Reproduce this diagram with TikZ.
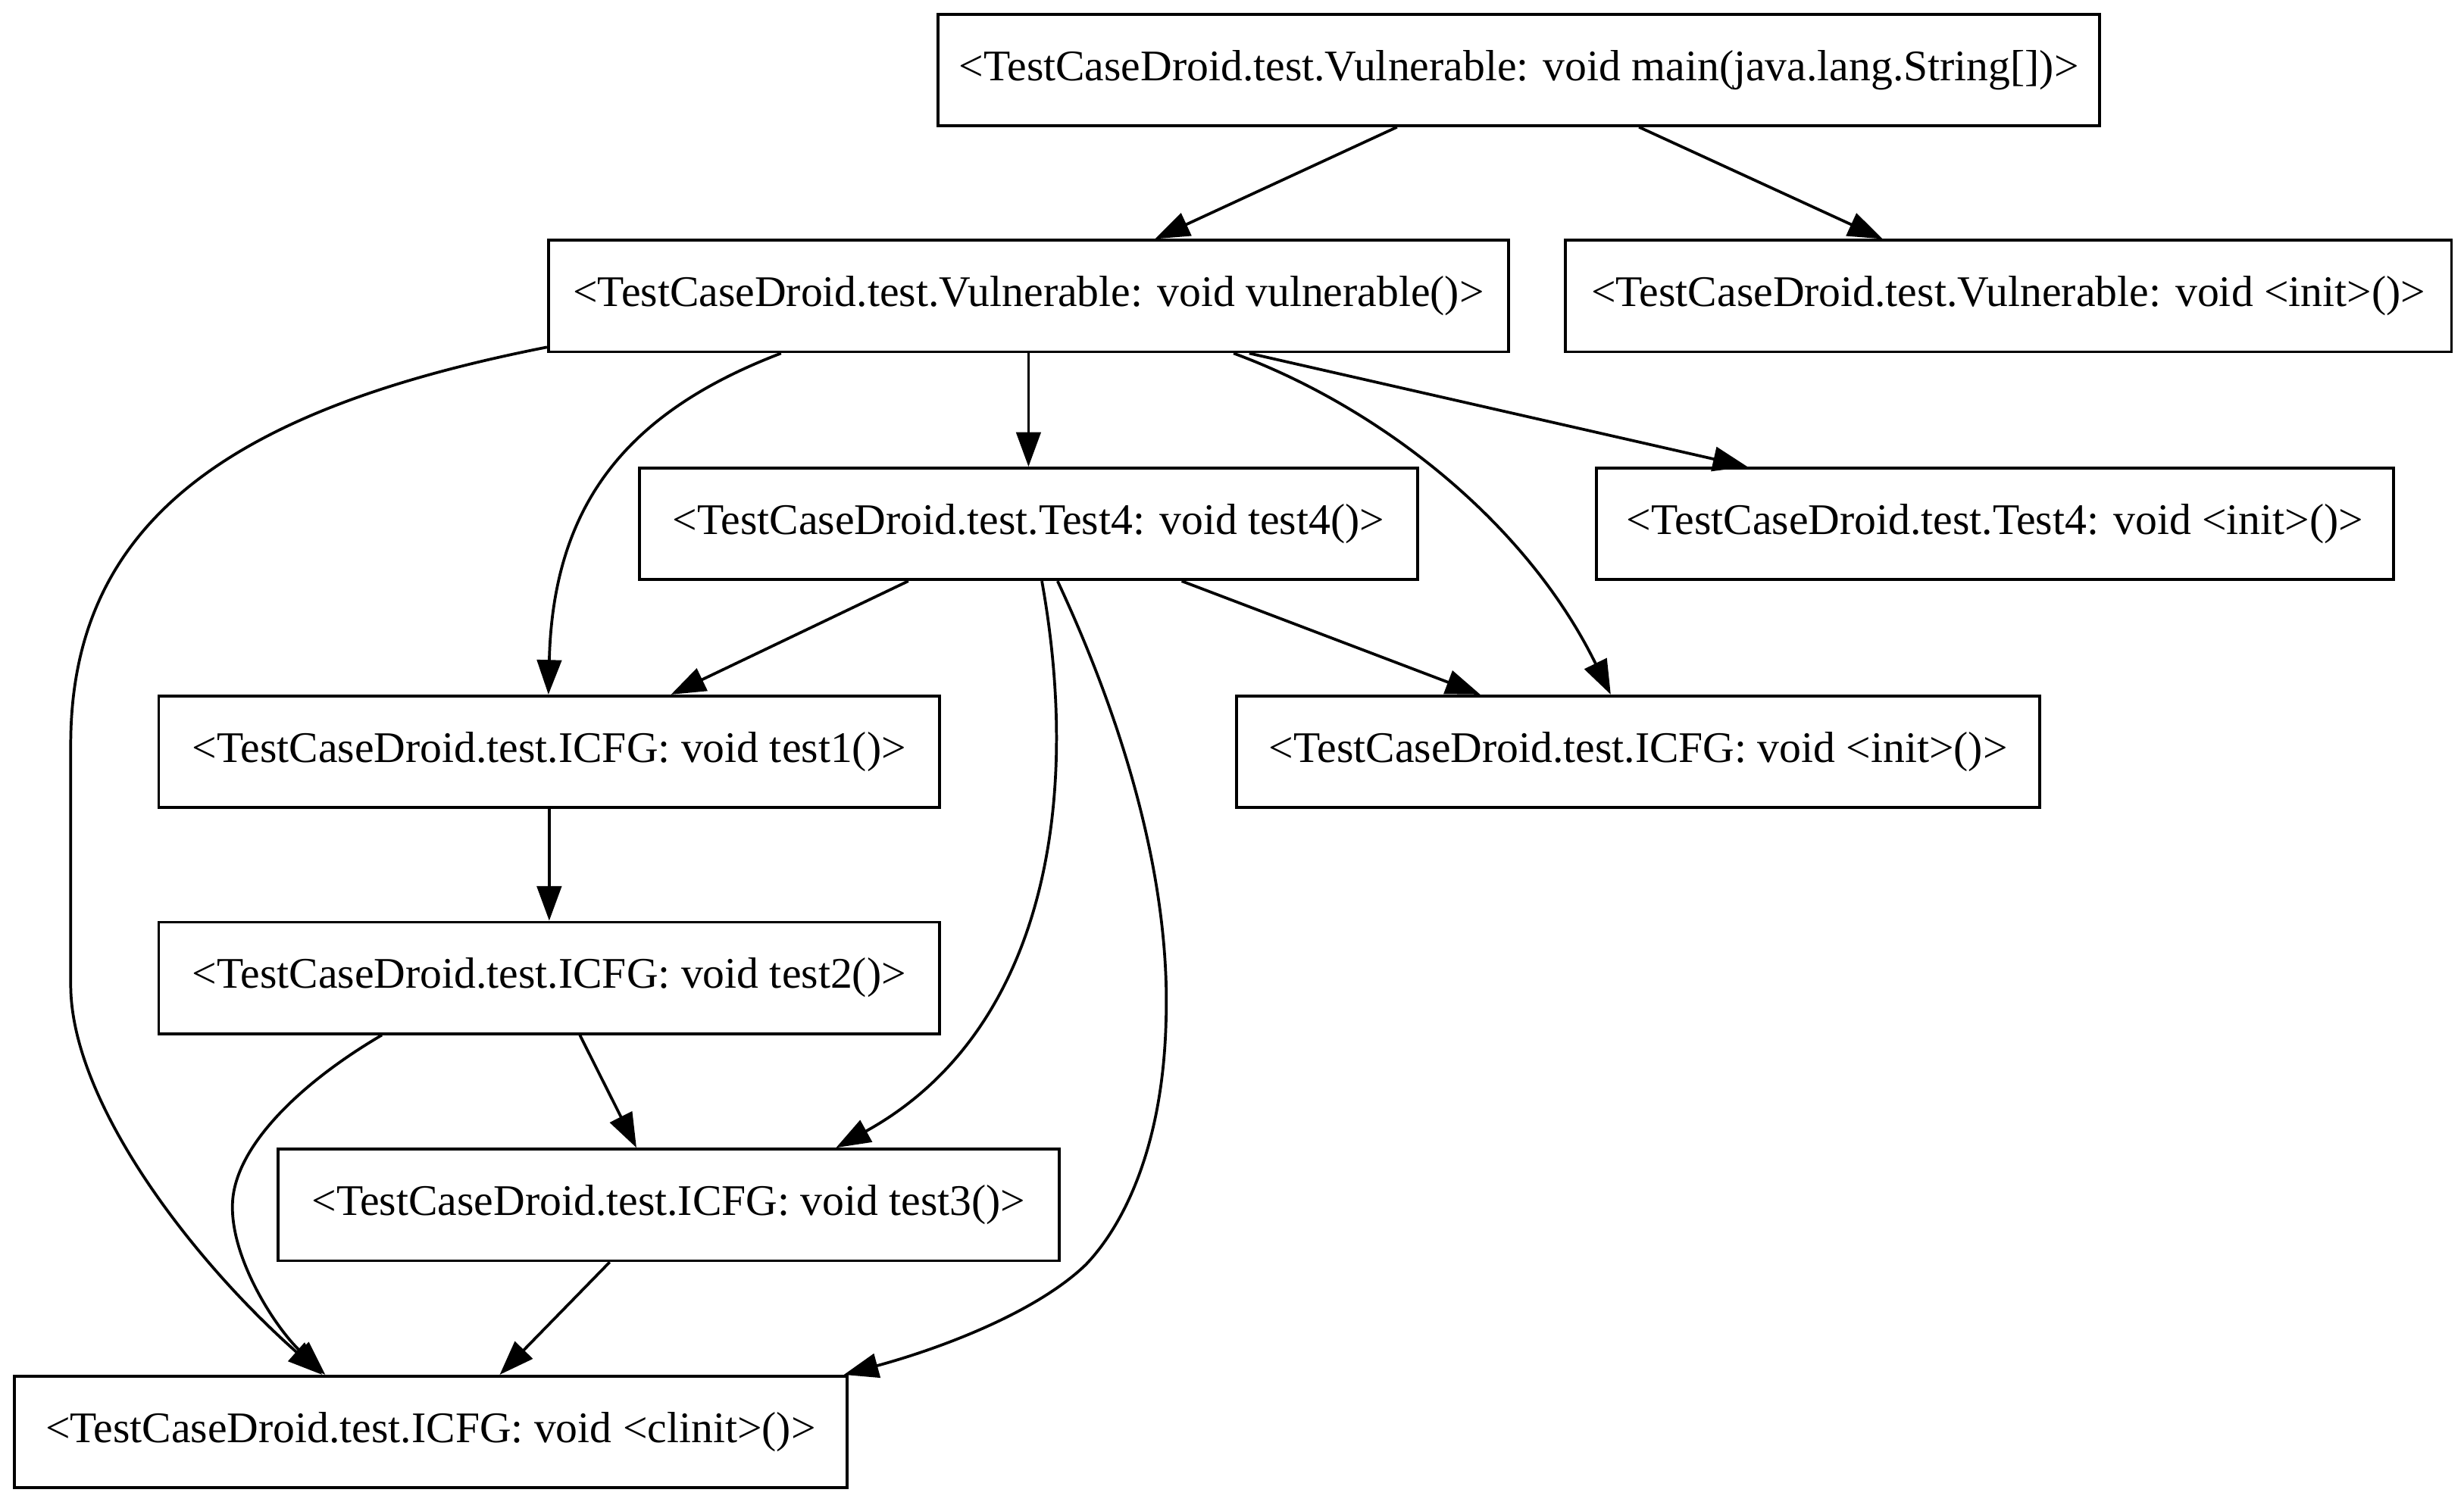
\documentclass[tikz,border=0pt]{standalone}
\usepackage{fontspec}
\setmainfont{Liberation Serif}
\usetikzlibrary{arrows.meta}
\begin{document}
\begin{tikzpicture}[x=0.5pt,y=-0.5pt,
  box/.style={draw, line width=0.9pt, minimum height=35.5pt, inner sep=0pt,
    font=\fontsize{13.9}{16}\selectfont},
  edge/.style={line width=0.9pt, -{Triangle[length=11pt,width=7.8pt]}}]
\useasboundingbox (0,0) rectangle (1568,956);
\node[box, minimum width=369.5pt] (main) at (966.5,44.5) {<TestCaseDroid.test.Vulnerable: void main(java.lang.String[])>};
\node[box, minimum width=305.5pt] (vul) at (654.5,188.5) {<TestCaseDroid.test.Vulnerable: void vulnerable()>};
\node[box, minimum width=282pt] (vinit) at (1278,188.5) {<TestCaseDroid.test.Vulnerable: void <init>()>};
\node[box, minimum width=247.5pt] (test4) at (654.5,333.5) {<TestCaseDroid.test.Test4: void test4()>};
\node[box, minimum width=253.5pt] (t4init) at (1269.5,333.5) {<TestCaseDroid.test.Test4: void <init>()>};
\node[box, minimum width=248.5pt] (test1) at (349.5,478.5) {<TestCaseDroid.test.ICFG: void test1()>};
\node[box, minimum width=255.5pt] (icfginit) at (1042.5,478.5) {<TestCaseDroid.test.ICFG: void <init>()>};
\node[box, minimum width=248.5pt] (test2) at (349.5,622.5) {<TestCaseDroid.test.ICFG: void test2()>};
\node[box, minimum width=248.5pt] (test3) at (425.5,767) {<TestCaseDroid.test.ICFG: void test3()>};
\node[box, minimum width=265pt] (clinit) at (274,911.5) {<TestCaseDroid.test.ICFG: void <clinit>()>};

\draw[edge] (main.south -| 889,0) -- (vul.north -| 735,0);
\draw[edge] (main.south -| 1043,0) -- (vinit.north -| 1198,0);
\draw[edge] (vul.west |- 0,221) .. controls (150,260) and (45,330) .. (45,474)
  -- (45,627) .. controls (45,700) and (120,800) .. (clinit.north -| 205,0);
\draw[edge] (vul.south -| 497,0) .. controls (400,262) and (352,320) .. (test1.north -| 349,0);
\draw[edge] (vul.south) -- (test4.north);
\draw[edge] (vul.south -| 785,0) .. controls (875,258) and (970,330) .. (icfginit.north -| 1025,0);
\draw[edge] (vul.south -| 795,0) -- (t4init.north -| 1112,0);
\draw[edge] (test4.south -| 578,0) -- (test1.north -| 427,0);
\draw[edge] (test4.south -| 663,0) .. controls (690,520) and (660,660) .. (test3.north -| 532,0);
\draw[edge] (test4.south -| 673,0) .. controls (715,460) and (745,560) .. (742,650)
  .. controls (740,730) and (715,780) .. (691,805)
  .. controls (660,835) and (600,858) .. (clinit.north -| 537,0);
\draw[edge] (test4.south -| 752,0) -- (icfginit.north -| 942,0);
\draw[edge] (test1.south) -- (test2.north);
\draw[edge] (test2.south -| 369,0) -- (test3.north -| 405,0);
\draw[edge] (test2.south -| 243,0) .. controls (190,690) and (150,730) .. (148,765)
  .. controls (146,800) and (175,845) .. (clinit.north -| 207,0);
\draw[edge] (test3.south -| 388,0) -- (clinit.north -| 318,0);
\end{tikzpicture}
\end{document}
